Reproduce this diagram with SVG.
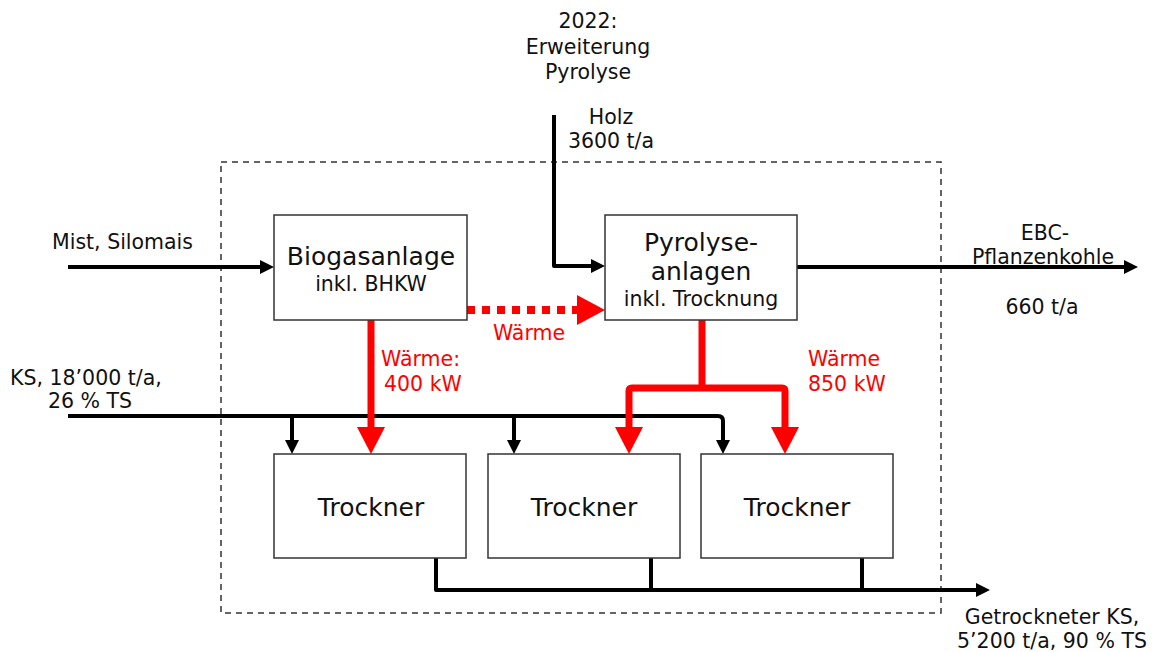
<svg xmlns="http://www.w3.org/2000/svg" width="1155" height="652" viewBox="0 0 1155 652">
<style>
text{font-family:"DejaVu Sans","Liberation Sans",sans-serif;fill:#111}
.big{font-size:25px;text-anchor:middle}
.mid{font-size:20.5px;text-anchor:middle}
.lab{font-size:20.5px}
.red{fill:#ff0000}
.box{fill:#fff;stroke:#333;stroke-width:1.5}
.blk{fill:none;stroke:#000;stroke-width:4;stroke-linejoin:round}
.rl{fill:none;stroke:#ff0000;stroke-width:7;stroke-linejoin:round}
</style>
<defs>
<marker id="ab" markerWidth="16" markerHeight="16" refX="2" refY="0" viewBox="0 -8 16 16" orient="auto" markerUnits="userSpaceOnUse"><path d="M0,-7 L14,0 L0,7 Z" fill="#000"/></marker>
</defs>
<rect x="221" y="162" width="720" height="451" fill="none" stroke="#333" stroke-width="1.5" stroke-dasharray="6,5"/>
<g id="connectors">
<path class="blk" d="M68,267 H262" marker-end="url(#ab)"/>
<path class="blk" d="M554,115 V266 H593" marker-end="url(#ab)"/>
<path class="blk" d="M797,267 H1126" marker-end="url(#ab)"/>
<path class="blk" d="M68,416 H718 Q723,416 723,421 V442" marker-end="url(#ab)"/>
<path class="blk" d="M292,416 V442" marker-end="url(#ab)"/>
<path class="blk" d="M514,416 V442" marker-end="url(#ab)"/>
<path class="blk" d="M436,558 V590 H978" marker-end="url(#ab)"/>
<path class="blk" d="M651,558 V590"/>
<path class="blk" d="M862,558 V590"/>
<path d="M467,310 H578" fill="none" stroke="#ff0000" stroke-width="8" stroke-dasharray="8,7"/>
<path d="M577,295 L605,310 L577,325 Z" fill="#ff0000"/>
<path class="rl" d="M371,320 V428"/>
<path d="M357,427 L385,427 L371,454 Z" fill="#ff0000"/>
<path class="rl" d="M702,320 V388"/>
<path class="rl" d="M629,428 V391 Q629,388 632,388 H782 Q785,388 785,391 V428"/>
<path d="M615,427 L643,427 L629,454 Z" fill="#ff0000"/>
<path d="M771,427 L799,427 L785,454 Z" fill="#ff0000"/>
</g>
<g id="biogas">
<rect class="box" x="274" y="215" width="193" height="105"/>
<text class="big" x="371" y="265">Biogasanlage</text>
<text class="mid" x="371" y="291">inkl. BHKW</text>
</g>
<g id="pyrolyse">
<rect class="box" x="605" y="215" width="192" height="105"/>
<text class="big" x="701" y="251">Pyrolyse-</text>
<text class="big" x="701" y="280">anlagen</text>
<text class="mid" x="701" y="306">inkl. Trocknung</text>
</g>
<g id="trockner1">
<rect class="box" x="274" y="454" width="192" height="104"/>
<text class="big" x="371" y="516">Trockner</text>
</g>
<g id="trockner2">
<rect class="box" x="488" y="454" width="192" height="104"/>
<text class="big" x="584" y="516">Trockner</text>
</g>
<g id="trockner3">
<rect class="box" x="701" y="454" width="192" height="104"/>
<text class="big" x="797" y="516">Trockner</text>
</g>
<g id="labels">
<text class="lab" x="52" y="249">Mist, Silomais</text>
<text class="mid" x="588" y="28">2022:</text>
<text class="mid" x="588" y="54">Erweiterung</text>
<text class="mid" x="588" y="79">Pyrolyse</text>
<text class="mid" x="611" y="124">Holz</text>
<text class="mid" x="611" y="148">3600 t/a</text>
<text class="mid" x="1045" y="240">EBC-</text>
<text class="mid" x="1043" y="264">Pflanzenkohle</text>
<text class="mid" x="1042" y="314">660 t/a</text>
<text class="mid red" x="529" y="340">Wärme</text>
<text class="lab red" x="381" y="366">Wärme:</text>
<text class="lab red" x="384" y="391">400 kW</text>
<text class="lab red" x="808" y="366">Wärme</text>
<text class="lab red" x="808" y="391">850 kW</text>
<text class="lab" x="10" y="385">KS, 18’000 t/a,</text>
<text class="lab" x="48" y="408">26 % TS</text>
<text class="mid" x="1052" y="624">Getrockneter KS,</text>
<text class="mid" x="1052" y="648">5’200 t/a, 90 % TS</text>
</g>
</svg>
